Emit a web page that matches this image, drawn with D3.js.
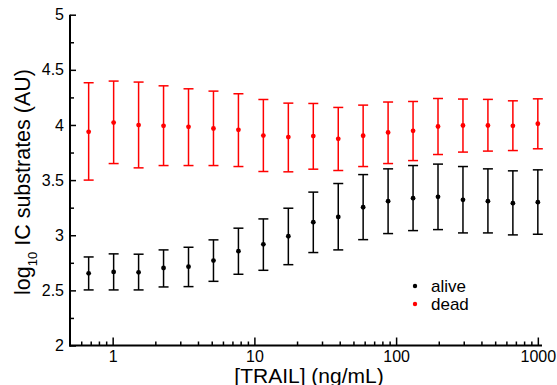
<!DOCTYPE html>
<html>
<head>
<meta charset="utf-8">
<script src="https://cdn.jsdelivr.net/npm/d3@7"></script>
<style>
  html, body { margin: 0; padding: 0; background: #fff; }
  svg { display: block; font-family: "Liberation Sans", Arial, sans-serif; }
</style>
</head>
<body>
<svg id="chart" width="557" height="385"></svg>
<script>
// ---- data ----
const conc = [0.677, 1.016, 1.524, 2.286, 3.429, 5.144, 7.716, 11.57, 17.36, 26.04, 39.06, 58.53, 87.79, 131.7, 197.5, 296.3, 444.4, 666.7, 1000];

const aliveMean = [2.655, 2.667, 2.664, 2.703, 2.715, 2.770, 2.855, 2.918, 2.991, 3.118, 3.166, 3.254, 3.309, 3.336, 3.348, 3.321, 3.309, 3.291, 3.300];
const aliveLow  = [2.504, 2.504, 2.504, 2.531, 2.534, 2.582, 2.646, 2.682, 2.733, 2.843, 2.867, 2.960, 3.015, 3.042, 3.051, 3.021, 3.021, 3.003, 3.009];
const aliveHigh = [2.803, 2.831, 2.828, 2.867, 2.891, 2.958, 3.064, 3.148, 3.245, 3.391, 3.469, 3.550, 3.602, 3.632, 3.645, 3.623, 3.602, 3.584, 3.593];

const deadMean = [3.938, 4.022, 3.999, 3.992, 3.983, 3.968, 3.956, 3.904, 3.890, 3.899, 3.874, 3.902, 3.932, 3.947, 3.986, 3.995, 3.995, 3.992, 4.011];
const deadLow  = [3.500, 3.650, 3.611, 3.632, 3.632, 3.632, 3.623, 3.578, 3.575, 3.599, 3.587, 3.623, 3.650, 3.677, 3.732, 3.754, 3.763, 3.768, 3.784];
const deadHigh = [4.383, 4.398, 4.389, 4.355, 4.328, 4.307, 4.283, 4.231, 4.198, 4.195, 4.159, 4.180, 4.208, 4.213, 4.240, 4.235, 4.232, 4.219, 4.237];

const xMajorTicks = [1, 10, 100, 1000];
const xMinorTicks = [0.6, 0.7, 0.8, 0.9, 2, 3, 4, 5, 6, 7, 8, 9, 20, 30, 40, 50, 60, 70, 80, 90, 200, 300, 400, 500, 600, 700, 800, 900];
const yMajorTicks = [2, 2.5, 3, 3.5, 4, 4.5, 5];
const yMinorTicks = [2.25, 2.75, 3.25, 3.75, 4.25, 4.75];

const seriesNames = ["alive", "dead"];
const seriesColors = ["#000000", "#ff0000"];

// ---- layout ----
const svg = d3.select("#chart");
const x = d3.scaleLog().domain([0.5, 1070]).range([70, 542]);
const y = d3.scaleLinear().domain([2, 5]).range([345.5, 14.7]);

// axes: ticks inward
const gx = svg.append("g").attr("transform", `translate(0,${y(2)})`);
gx.call(d3.axisBottom(x).tickValues(xMinorTicks).tickSize(-4).tickFormat(""));
gx.select(".domain").remove();
const gx2 = svg.append("g").attr("transform", `translate(0,${y(2)})`);
gx2.call(d3.axisBottom(x).tickValues(xMajorTicks).tickSize(-8).tickPadding(5).tickFormat(d3.format("d")));
gx2.select(".domain").remove();

const gy = svg.append("g").attr("transform", `translate(${x(0.5)},0)`);
gy.call(d3.axisLeft(y).tickValues(yMinorTicks).tickSize(-4).tickFormat(""));
gy.select(".domain").remove();
const gy2 = svg.append("g").attr("transform", `translate(${x(0.5)},0)`);
gy2.call(d3.axisLeft(y).tickValues(yMajorTicks).tickSize(-6).tickPadding(6).tickFormat(d => String(d)));
gy2.select(".domain").remove();

svg.selectAll(".tick line").attr("stroke", "#000").attr("stroke-width", 1.5);
svg.selectAll(".tick text").attr("font-size", 16).attr("fill", "#000")
   .attr("font-family", "'Liberation Sans', Arial, sans-serif");

// axis lines
svg.append("line").attr("x1", x(0.5)).attr("x2", x(0.5)).attr("y1", y(5)).attr("y2", y(2) + 1)
   .attr("stroke", "#000").attr("stroke-width", 2);
svg.append("line").attr("x1", x(0.5) - 1).attr("x2", x(1070)).attr("y1", y(2)).attr("y2", y(2))
   .attr("stroke", "#000").attr("stroke-width", 2);

// ---- series ----
function drawSeries(mean, low, high, color) {
  const data = conc.map((c, i) => ({ c, m: mean[i], lo: low[i], hi: high[i] }));
  const g = svg.append("g");
  const capW = 5;
  g.selectAll("line.v").data(data).join("line")
    .attr("x1", d => x(d.c)).attr("x2", d => x(d.c))
    .attr("y1", d => y(d.lo)).attr("y2", d => y(d.hi))
    .attr("stroke", color).attr("stroke-width", 1.5);
  g.selectAll("line.t").data(data).join("line")
    .attr("x1", d => x(d.c) - capW).attr("x2", d => x(d.c) + capW)
    .attr("y1", d => y(d.hi)).attr("y2", d => y(d.hi))
    .attr("stroke", color).attr("stroke-width", 1.5);
  g.selectAll("line.b").data(data).join("line")
    .attr("x1", d => x(d.c) - capW).attr("x2", d => x(d.c) + capW)
    .attr("y1", d => y(d.lo)).attr("y2", d => y(d.lo))
    .attr("stroke", color).attr("stroke-width", 1.5);
  g.selectAll("circle").data(data).join("circle")
    .attr("cx", d => x(d.c)).attr("cy", d => y(d.m)).attr("r", 2.4)
    .attr("fill", color);
}
drawSeries(aliveMean, aliveLow, aliveHigh, seriesColors[0]);
drawSeries(deadMean, deadLow, deadHigh, seriesColors[1]);

// ---- legend ----
const legend = svg.append("g");
seriesNames.forEach((name, i) => {
  legend.append("circle").attr("cx", 415).attr("cy", 286 + i * 18).attr("r", 2.2).attr("fill", seriesColors[i]);
  legend.append("text").attr("x", 431).attr("y", 291.5 + i * 18).attr("font-size", 17).attr("fill", "#000").text(name);
});

// ---- axis titles ----
svg.append("text").attr("x", 309).attr("y", 382.5).attr("text-anchor", "middle")
   .attr("font-size", 21).attr("fill", "#000").text("[TRAIL] (ng/mL)");

const yl = svg.append("text").attr("transform", "translate(29.5,182) rotate(-90)")
   .attr("text-anchor", "middle").attr("font-size", 21.5).attr("fill", "#000");
yl.append("tspan").text("log");
yl.append("tspan").attr("font-size", 13).attr("dy", 7).text("10");
yl.append("tspan").attr("dy", -7).text(" IC substrates (AU)");
</script>
</body>
</html>
